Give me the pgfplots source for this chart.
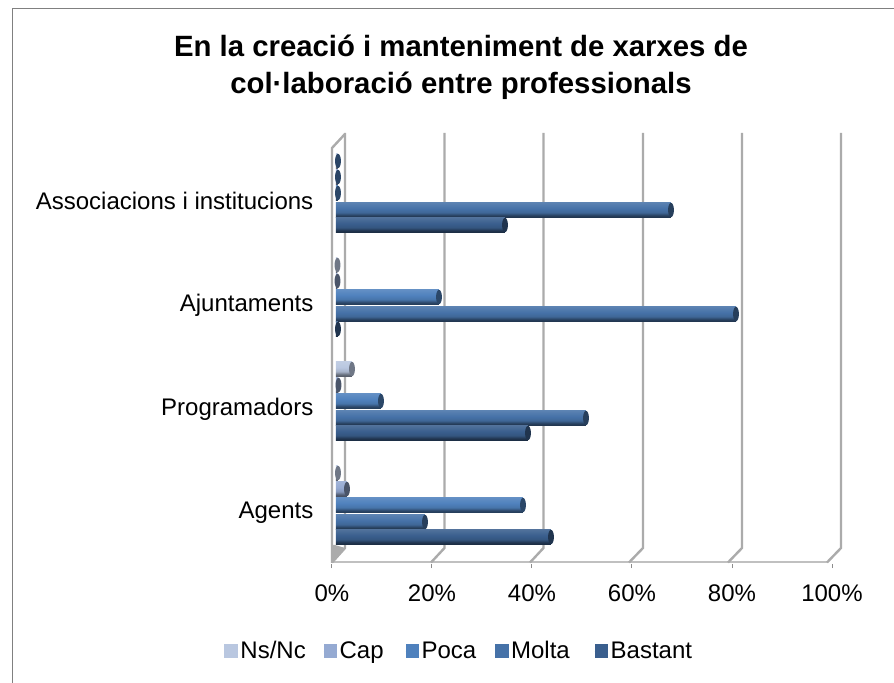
\documentclass[border=0pt]{standalone}
\usepackage{pgfplots}
\pgfplotsset{compat=1.18}
\usepackage{fontspec}
\setmainfont{Liberation Sans}
\newcommand{\tfs}{\fontsize{18}{22}\selectfont}

% 1 pixel of the reference
\newdimen\px \px=0.75pt

\definecolor{cNs}{HTML}{B9C7E0}
\definecolor{cCap}{HTML}{95AAD2}
\definecolor{cPoca}{HTML}{4F81BD}
\definecolor{cMolta}{HTML}{4672A8}
\definecolor{cBastant}{HTML}{3A5F8E}
\definecolor{wallgray}{HTML}{ABABAB}

\pgfdeclareplotmark{cap}{\pgfpathellipse{\pgfpointorigin}{\pgfqpoint{2.2pt}{0pt}}{\pgfqpoint{0pt}{5.4pt}}\pgfusepathqfill}

% lit from above, dark along the lower edge; the path covers 25bp to 75bp
\newcommand{\cylshade}[2]{%
  \pgfdeclareverticalshading{cyl#1}{100bp}{
    color(0bp)=(#2!45!black); color(25bp)=(#2!45!black);
    color(32bp)=(#2!55!black); color(42bp)=(#2!90!black);
    color(55bp)=(#2); color(75bp)=(#2!88!white); color(100bp)=(#2!88!white)}}
\cylshade{Ns}{cNs}
\cylshade{Cap}{cCap}
\cylshade{Poca}{cPoca}
\cylshade{Molta}{cMolta}
\cylshade{Bastant}{cBastant}

% one bar and its end cap, drawn 4 px in from the front wall (a shading spans
% the whole plot, so every bar is its own plot)
% #1 value, #2 group, #3 shading, #4 cap colour, #5 shift in px
\newcommand{\cylbar}[5]{%
  \addplot[forget plot, xbar, bar width=15.5\px, bar shift=#5\px, xshift=4\px, draw=none,
    shading=cyl#3] coordinates {(#1,#2)};
  \addplot[forget plot, only marks, xshift=4\px, mark=cap, mark options={draw=none, fill=#4, yshift=#5\px}] coordinates {(#1,#2)};
}
\newcommand{\barNs}[3][cNs!60!black]{\cylbar{#2}{#3}{Ns}{#1}{39}}
\newcommand{\barCap}[3][cCap!50!black]{\cylbar{#2}{#3}{Cap}{#1}{23}}
\newcommand{\barPoca}[3][cPoca!55!black]{\cylbar{#2}{#3}{Poca}{#1}{7}}
\newcommand{\barMolta}[3][cMolta!55!black]{\cylbar{#2}{#3}{Molta}{#1}{-10}}
\newcommand{\barBastant}[3][cBastant!55!black]{\cylbar{#2}{#3}{Bastant}{#1}{-25}}

% wall line over the floor: front x, back x
\newcommand{\wall}[2]{\draw[wallgray, line width=2.4\px, line join=round]
  (#1,120.5) -- (#2,135) -- (#2,550);}
% legend entries are not evenly spaced in the reference
\newcommand{\pad}[1]{\rule{#1\px}{0pt}}

\begin{document}
\begin{tikzpicture}[x=\px,y=\px]
  % page and chart frame, in pixels from the lower left
  \path[use as bounding box] (0,0) rectangle (894,683);
  \draw[color=black!50, line width=1.8\px] (12.5,-2) -- (12.5,674.5) -- (896,674.5);
  % floor and walls behind the bars
  \fill[wallgray] (332,120) -- (345,135) -- (335,138) -- (332,138) -- cycle;
  \draw[wallgray!75, line width=2\px] (332,120.5) -- (828,120.5);
  \wall{332}{345}
  \wall{431}{444.5}
  \wall{530}{543.5}
  \wall{629}{643}
  \wall{728}{742}
  \wall{827}{841}
  \draw[wallgray, line width=2.4\px, line join=round] (332,120) -- (332,535) -- (345,549);
  \begin{axis}[
      at={(332\px,119\px)}, anchor=south west,
      scale only axis, width=500\px, height=416\px,
      xmin=0, xmax=100, ymin=-0.5, ymax=3.5,
      clip=false,
      axis line style={draw=none},
      xtick={0,20,...,100},
      xticklabel={\pgfmathprintnumber{\tick}\%},
      xtick pos=bottom, ytick pos=left,
      ytick={0,1,2,3},
      yticklabels={Agents,Programadors,Ajuntaments,Associacions i institucions},
      extra y ticks={-0.5,0.5,1.5,2.5,3.5},
      extra y tick labels={},
      extra y tick style={tick style={color=black!45, line width=1\px}},
      ytick style={draw=none},
      major tick length=4\px,
      tick align=outside,
      xtick style={color=black!45, line width=1\px},
      x tick label style={yshift=-12\px},
      y tick label style={xshift=-10\px, yshift=-1\px},
      ticklabel style={font=\tfs},
      /pgf/number format/assume math mode=true,
      legend columns=5,
      legend style={at={(-108\px,-87\px)}, anchor=west, draw=none, fill=none, font=\tfs,
        inner sep=0pt,
        /tikz/every even column/.style={column sep=12\px}},
      legend cell align=left,
      legend image code/.code={\path[#1] plot coordinates {(6.5\px,0)}; \path (0,0) -- (13\px,0);},
    ]
    % group 0 Agents, 1 Programadors, 2 Ajuntaments, 3 Associacions i institucions
    \barNs{0.4}{0}
    \barNs{3.2}{1}
    \barNs{0.3}{2}
    \barNs[cMolta!60!black]{0.4}{3}
    \barCap{2.2}{0}
    \barCap{0.5}{1}
    \barCap{0.3}{2}
    \barCap[cMolta!60!black]{0.4}{3}
    \barPoca{37.4}{0}
    \barPoca{9}{1}
    \barPoca{20.6}{2}
    \barPoca{0.4}{3}
    \barMolta{17.8}{0}
    \barMolta{50}{1}
    \barMolta{80}{2}
    \barMolta{67}{3}
    \barBastant{43}{0}
    \barBastant{38.4}{1}
    \barBastant{0.4}{2}
    \barBastant{33.8}{3}

    \addlegendimage{only marks, mark=square*, mark size=4.7pt, color=cNs}
    \addlegendentry{Ns/Nc\pad{3}}
    \addlegendimage{only marks, mark=square*, mark size=4.7pt, color=cCap}
    \addlegendentry{Cap\pad{7}}
    \addlegendimage{only marks, mark=square*, mark size=4.7pt, color=cPoca}
    \addlegendentry{Poca\pad{4}}
    \addlegendimage{only marks, mark=square*, mark size=4.7pt, color=cMolta}
    \addlegendentry{Molta\pad{10}}
    \addlegendimage{only marks, mark=square*, mark size=4.7pt, color=cBastant}
    \addlegendentry{Bastant}
  \end{axis}
  \node[align=center, font=\fontsize{22}{27.5}\selectfont\bfseries] at (461,616)
    {En la creació i manteniment de xarxes de\\col·laboració entre professionals};
\end{tikzpicture}
\end{document}
